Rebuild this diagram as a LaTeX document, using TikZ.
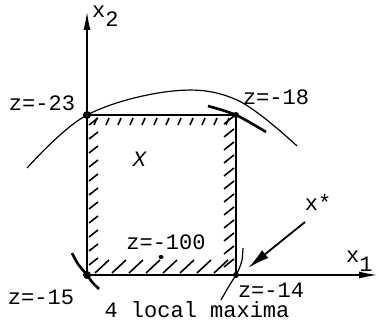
\documentclass[tikz,border=0pt]{standalone}
\usepackage{fontspec}
\setmonofont{Liberation Mono}
\usetikzlibrary{arrows.meta}

\newcommand{\lowsub}[2]{#1\raisebox{-9pt}{#2}}

\begin{document}
\begin{tikzpicture}[x=1pt,y=1pt,
    lbl/.style={font=\ttfamily\fontsize{22}{22}\selectfont, inner sep=0pt},
    edge/.style={line width=2.6pt},
    axis/.style={line width=1.8pt, -{Latex[length=19pt,width=7pt]}},
    hatch/.style={line width=1.6pt},
    level/.style={line width=1.2pt},
    tangent/.style={line width=2.6pt}]
\useasboundingbox (0,0) rectangle (379,321);

% ---- corners of the feasible box
\coordinate (O) at (87,46);
\coordinate (A) at (87,206);
\coordinate (B) at (236,206);
\coordinate (C) at (236,46);
\coordinate (x2tip) at (87,310);
\coordinate (x1tip) at (378,46);

% ---- axes
\draw[axis] (O) -- (x2tip);
\draw[axis] (O) -- (x1tip);
\node[lbl, anchor=base west] (x2lab) at (92,303) {\lowsub{x}{2}};
\node[lbl, anchor=base west] (x1lab) at (346,59) {\lowsub{x}{1}};

% ---- box X with its hatching
\draw[edge] (O) -- (A) -- (B) -- (C);
\foreach \x in {97,109,...,229} \draw[hatch] (\x,203) -- ++(-3,-7);
\foreach \y in {56,70,...,196} \draw[hatch] (89,\y) -- ++(9,7);
\foreach \x in {95,112,...,224} \draw[hatch] (\x,48) -- ++(14,13);
\foreach \y in {54,67,...,197} \draw[hatch] (224,\y) -- ++(10,8);
\foreach \c/\r in {A/4,B/3,O/4,C/3} \fill (\c) circle (\r);
\node[lbl] (setX) at (140,162) {\textit{X}};

% ---- level curves through the corners
\draw[level] plot[smooth, tension=0.6] coordinates {(27,153) (A) (173,230) (237,221) (297,175)};
\draw[tangent] plot[smooth] coordinates {(208,215) (B) (266,189)};
\draw[tangent] plot[smooth] coordinates {(72,68) (78,57) (O) (92,39) (99,32)};
\draw[level] plot[smooth] coordinates {(243,73) (242,61) (239,52) (C) (229,35) (221,21)};

% ---- values of z
\node[lbl] (z23) at (42,218) {z=-23};
\node[lbl] (z18) at (276,224) {z=-18};
\node[lbl] (z100) at (166,79) {z=-100};
\node[lbl] (z15) at (41,24) {z=-15};
\node[lbl] (z14) at (271,31) {z=-14};
\node[lbl] (maxima) at (197,11) {4 local maxima};
\coordinate (zmin) at (161,64);
\fill (zmin) ellipse (2.5 and 2);

% ---- optimum
\node[lbl] (xstar) at (318,118) {x*};
\coordinate (tail) at (305,99);
\coordinate (tip) at (248,53);
\draw[line width=1.8pt, -{Latex[length=22pt,width=10pt]}] (tail) -- (tip);
\end{tikzpicture}
\end{document}
